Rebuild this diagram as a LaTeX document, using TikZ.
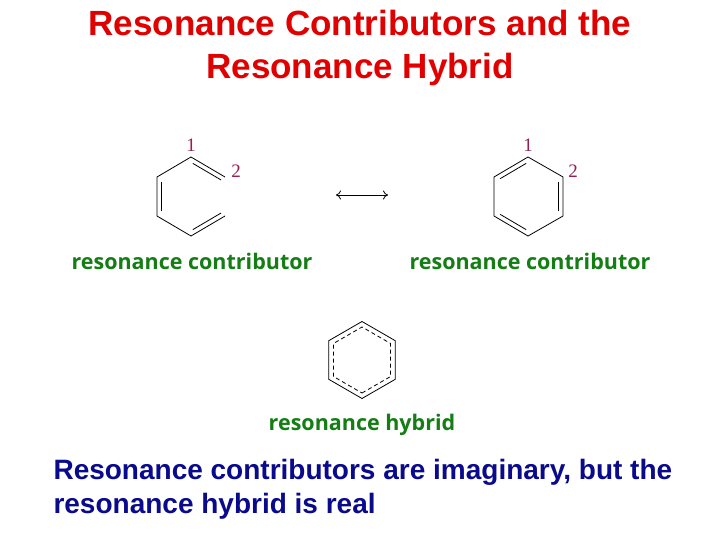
\documentclass[tikz,border=0pt]{standalone}
\usepackage{fontspec}
\usetikzlibrary{calc,arrows.meta}
\setmainfont{Liberation Sans}
\newfontfamily\lab{Open Sans}
\newfontfamily\num{Liberation Serif}
\definecolor{ttl}{RGB}{224,0,0}
\definecolor{blu}{RGB}{10,10,140}
\definecolor{grn}{RGB}{20,125,20}
\definecolor{mar}{RGB}{150,30,80}
\begin{document}
\begin{tikzpicture}[x=1pt,y=-1pt,
  bond/.style={line width=0.8pt},
  title/.style={text=ttl,font=\fontsize{35}{43}\selectfont\bfseries,align=center},
  glab/.style={text=grn,font=\lab\fontsize{21.5}{24}\selectfont\bfseries},
  nlab/.style={text=mar,font=\num\fontsize{19}{20}\selectfont},
  body/.style={text=blu,font=\fontsize{28}{34}\selectfont\bfseries,align=left}]
\useasboundingbox[fill=white] (0,0) rectangle (720,540);
\node[title] (t) at (360,48) {Resonance Contributors and the\\Resonance Hybrid};
% left contributor
\coordinate (a1) at (191,157); \coordinate (a2) at (225,177); \coordinate (a3) at (225,216);
\coordinate (a4) at (191,236); \coordinate (a5) at (157,216); \coordinate (a6) at (157,177);
\draw[bond] (a2)--(a1)--(a6)--(a5)--(a4)--(a3);
\draw[bond] ($(a1)!0.12!(a2)+(-2.2,4)$)--($(a1)!0.95!(a2)+(-2.2,4)$);
\draw[bond] ($(a6)!0.12!(a5)+(4.5,0)$)--($(a6)!0.88!(a5)+(4.5,0)$);
\draw[bond] ($(a4)!0.12!(a3)+(-2.2,-4)$)--($(a4)!0.95!(a3)+(-2.2,-4)$);
\node[nlab] (n1) at (191,145) {1};
\node[nlab] (n2) at (236,171) {2};
% arrow
\coordinate (r1) at (336,195); \coordinate (r2) at (388,195);
\draw[{To[length=5pt,width=9pt]}-{To[length=5pt,width=9pt]},line width=0.8pt] (r1)--(r2);
% right contributor
\coordinate (b1) at (528,157); \coordinate (b2) at (563,177); \coordinate (b3) at (563,216);
\coordinate (b4) at (528,236); \coordinate (b5) at (494,216); \coordinate (b6) at (494,177);
\draw[bond] (b1)--(b2)--(b3)--(b4)--(b5)--(b6)--cycle;
\draw[bond] ($(b1)!0.12!(b6)+(2.2,4)$)--($(b1)!0.88!(b6)+(2.2,4)$);
\draw[bond] ($(b2)!0.12!(b3)+(-4.5,0)$)--($(b2)!0.88!(b3)+(-4.5,0)$);
\draw[bond] ($(b4)!0.12!(b5)+(2.2,-4)$)--($(b4)!0.88!(b5)+(2.2,-4)$);
\node[nlab] (m1) at (528,145) {1};
\node[nlab] (m2) at (573,171) {2};
% hybrid
\draw[bond] (362,360) ++(90:38.5) -- ++(-30:38.5) -- ++(-90:38.5) -- ++(-150:38.5) -- ++(150:38.5) -- ++(90:38.5) -- cycle;
\draw[bond,dash pattern=on 4pt off 3pt] (362,360) ++(90:33) -- ++(-30:33) -- ++(-90:33) -- ++(-150:33) -- ++(150:33) -- ++(90:33) -- cycle;
\node[glab] (l1) at (192,261) {resonance contributor};
\node[glab] (l2) at (530,261) {resonance contributor};
\node[glab] (l3) at (362,425) {resonance hybrid};
\node[body,anchor=west] (bt) at (50,489) {Resonance contributors are imaginary, but the\\resonance hybrid is real};
\end{tikzpicture}
\end{document}
